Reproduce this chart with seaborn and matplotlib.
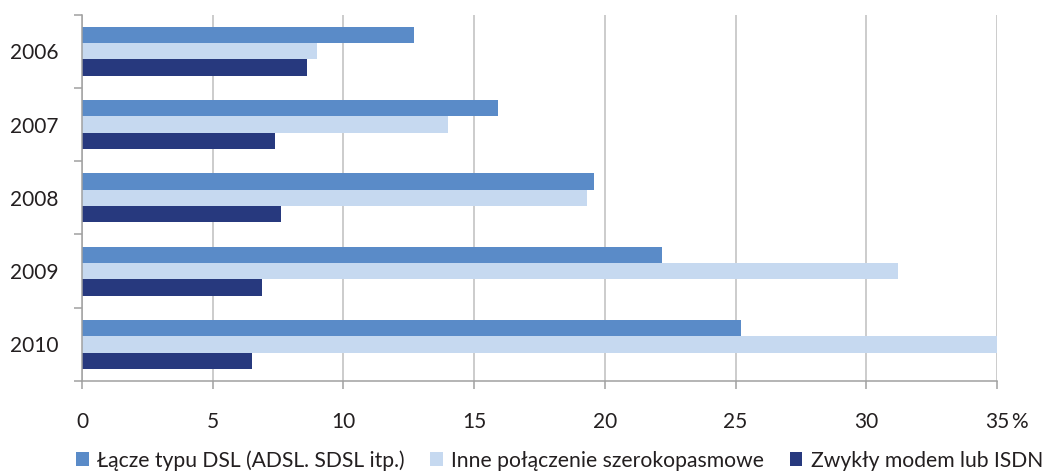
import matplotlib
matplotlib.use("Agg")
import matplotlib.pyplot as plt
import seaborn as sns
import pandas as pd
import numpy as np

years = ["2006", "2007", "2008", "2009", "2010"]
series = ["Łącze typu DSL (ADSL. SDSL itp.)", "Inne połączenie szerokopasmowe", "Zwykły modem lub ISDN"]
dsl = [12.7, 15.9, 19.6, 22.2, 25.2]
inne = [9.0, 14.0, 19.3, 31.2, 35.0]
zwykly = [8.6, 7.4, 7.6, 6.9, 6.5]
x_ticks = [0, 5, 10, 15, 20, 25, 30, 35]
x_tick_labels = ["0", "5", "10", "15", "20", "25", "30", "35"]
colors = ["#5A8BC8", "#C6D9F0", "#27397E"]

rows = []
for name, vals in zip(series, [dsl, inne, zwykly]):
    for y, v in zip(years, vals):
        rows.append({"rok": y, "wartosc": v, "typ": name})
df = pd.DataFrame(rows)

sns.set_theme(style="white")
plt.rcParams["font.family"] = ["Lato", "DejaVu Sans"]

fig = plt.figure(figsize=(10.44, 4.73), dpi=100)
ax = fig.add_axes([82 / 1044, 1 - 381 / 473, (997 - 82) / 1044, (381 - 14.7) / 473])

sns.barplot(data=df, y="rok", x="wartosc", hue="typ", order=years, hue_order=series,
            palette=colors, orient="h", width=0.667, gap=0, linewidth=0,
            saturation=1, ax=ax, legend=True)

ax.set_xlim(0, 35)
ax.set_ylim(4.5, -0.5)
ax.set_xlabel("")
ax.set_ylabel("")

ax.set_xticks(x_ticks)
ax.set_xticklabels(x_tick_labels)
ax.xaxis.grid(True, color="#BFBFBF", linewidth=1.1)
ax.yaxis.grid(False)
ax.set_axisbelow(True)

for s in ["top", "right"]:
    ax.spines[s].set_visible(False)
for s in ["left", "bottom"]:
    ax.spines[s].set_color("#A0A0A0")
    ax.spines[s].set_linewidth(1.1)

ax.tick_params(axis="x", which="major", direction="out", length=6, width=1.1,
               color="#A0A0A0", pad=16, labelsize=15, labelcolor="#231F20", bottom=True)
ax.tick_params(axis="y", which="major", length=0, pad=17, labelsize=15, labelcolor="#231F20")
ax.set_yticks(np.arange(-0.5, 5, 1), minor=True)
ax.tick_params(axis="y", which="minor", direction="out", length=6, width=1.1,
               color="#A0A0A0", left=True)

ax.annotate("%", xy=(35, 0), xycoords=("data", "axes fraction"), xytext=(10, -22),
            textcoords="offset points", ha="left", va="top", fontsize=15, color="#231F20")

handles, labels = ax.get_legend_handles_labels()
ax.get_legend().remove()
fig.legend(handles, labels, loc="lower center", bbox_to_anchor=(0.536, -0.035), ncol=3,
           frameon=False, fontsize=15.2, handlelength=0.6, handleheight=0.6,
           handletextpad=0.4, columnspacing=1.2, labelcolor="#231F20")

fig.savefig("out.png", dpi=100)
